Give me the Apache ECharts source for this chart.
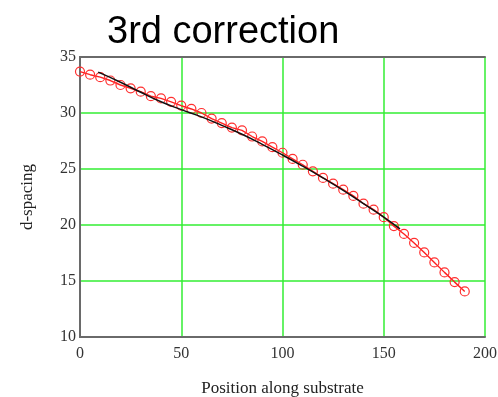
<!DOCTYPE html>
<html><head><meta charset="utf-8">
<script src="https://cdn.jsdelivr.net/npm/echarts@6/dist/echarts.min.js"></script>
<style>html,body{margin:0;padding:0;background:#fff}#c{width:498px;height:397px}</style>
</head><body><div id="c"></div>
<script>
const titleText = '3rd correction';
const xName = 'Position along substrate';
const yName = 'd-spacing';
const redX = [0,5,10,15,20,25,30,35,40,45,50,55,60,65,70,75,80,85,90,95,100,105,110,115,120,125,130,135,140,145,150,155,160,165,170,175,180,185,190];
const redY = [33.7,33.42,33.2,32.9,32.5,32.2,31.9,31.5,31.3,31.0,30.65,30.36,30.0,29.5,29.1,28.7,28.45,27.9,27.46,26.95,26.45,25.9,25.38,24.79,24.2,23.69,23.15,22.6,21.9,21.37,20.7,19.9,19.2,18.4,17.55,16.66,15.77,14.9,14.07];
const fitX = [9,20,30,40,50,60,70,80,90,100,110,120,130,140,150,158];
const fitY = [33.65,32.75,31.85,31.0,30.3,29.65,28.9,28.1,27.2,26.25,25.25,24.2,23.1,21.9,20.7,19.65];

const chart = echarts.init(document.getElementById('c'), null, {renderer:'canvas'});
const serif = '"Liberation Serif", "DejaVu Serif", serif';
const frame = {show:true,lineStyle:{color:'#6a6a6a',width:2}};
chart.setOption({
  animation:false,
  backgroundColor:'#fff',
  title:{text:titleText,left:102,top:9,textStyle:{fontFamily:'"Liberation Sans", Arial, sans-serif',fontSize:38,fontWeight:'normal',color:'#000'}},
  grid:{left:80,right:13,top:57,bottom:60,containLabel:false,outerBoundsMode:'none'},
  xAxis:[{type:'value',min:0,max:200,interval:50,position:'bottom',
    name:xName,nameLocation:'middle',nameGap:43,nameTextStyle:{fontFamily:serif,fontSize:17,color:'#222'},
    axisLine:frame,axisTick:{show:false},
    axisLabel:{fontFamily:serif,fontSize:16,color:'#333',margin:9},
    splitLine:{show:true,lineStyle:{color:'#33ee33',width:1.5}}},
   {type:'value',min:0,max:200,interval:50,position:'top',
    axisLine:frame,axisTick:{show:false},axisLabel:{show:false},splitLine:{show:false}}],
  yAxis:[{type:'value',min:10,max:35,interval:5,position:'left',
    name:yName,nameLocation:'middle',nameGap:44,nameTextStyle:{fontFamily:serif,fontSize:17,color:'#222'},
    axisLine:frame,axisTick:{show:false},
    axisLabel:{fontFamily:serif,fontSize:16,color:'#333',margin:4},
    splitLine:{show:true,lineStyle:{color:'#33ee33',width:1.5}}},
   {type:'value',min:10,max:35,interval:5,position:'right',
    axisLine:frame,axisTick:{show:false},axisLabel:{show:false},splitLine:{show:false}}],
  series:[
    {type:'line',data:redX.map((x,i)=>[x,redY[i]]),symbol:'circle',symbolSize:9,
     lineStyle:{color:'#ff2020',width:1.4},itemStyle:{color:'rgba(255,255,255,0)',borderColor:'#ff3030',borderWidth:1.2},z:2},
    {type:'line',data:fitX.map((x,i)=>[x,fitY[i]]),smooth:true,symbol:'none',
     lineStyle:{color:'#111',width:1.5},z:3}
  ]
});
</script></body></html>
